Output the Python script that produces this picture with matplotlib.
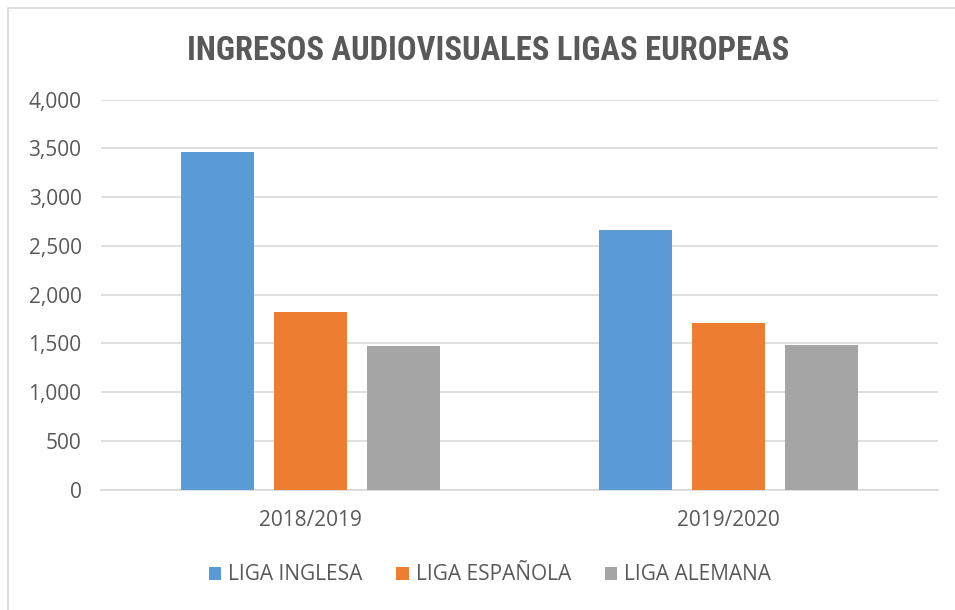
import matplotlib
matplotlib.use("Agg")
import matplotlib.pyplot as plt
from matplotlib.patches import Rectangle
from matplotlib.ticker import FuncFormatter, MultipleLocator
import numpy as np

categories = ["2018/2019", "2019/2020"]
series_names = ["LIGA INGLESA", "LIGA ESPAÑOLA", "LIGA ALEMANA"]
liga_inglesa = [3460, 2663]
liga_espanola = [1822, 1706]
liga_alemana = [1474, 1484]
colors = ["#5B9BD5", "#ED7D31", "#A5A5A5"]

values = [liga_inglesa, liga_espanola, liga_alemana]

fig = plt.figure(figsize=(9.55, 6.10), dpi=100)
ax = fig.add_axes([101/955, (610-489.6)/610, 837/955, 390/610])

x = np.arange(len(categories))
width = 0.174
offsets = [-0.222, 0, 0.222]
for vals, name, col, off in zip(values, series_names, colors, offsets):
    ax.bar(x + off, vals, width, color=col, label=name, zorder=3)

ax.set_xlim(-0.5, 1.5)
ax.set_ylim(0, 4000)
ax.yaxis.set_major_locator(MultipleLocator(500))
ax.yaxis.set_major_formatter(FuncFormatter(lambda v, p: f"{int(v):,}"))
ax.grid(axis="y", color="#D9D9D9", linewidth=1.2, zorder=0)
for s in ["top", "right", "left"]:
    ax.spines[s].set_visible(False)
ax.spines["bottom"].set_color("#D9D9D9")
ax.spines["bottom"].set_linewidth(1.2)
ax.tick_params(axis="both", length=0, labelcolor="#595959", labelsize=15)
ax.tick_params(axis="y", pad=14)
ax.tick_params(axis="x", pad=15)
ax.set_xticks(x)
ax.set_xticklabels(categories)
for lab in ax.get_xticklabels() + ax.get_yticklabels():
    lab.set_family("Open Sans")

fig.text(488/955, 1 - 51/610, "INGRESOS AUDIOVISUALES LIGAS EUROPEAS",
         ha="center", va="center", fontsize=23.5, fontweight="bold",
         color="#595959",
         family=["Liberation Sans Narrow", "Roboto Condensed", "Open Sans Condensed",
                 "Noto Sans Condensed", "Arial Narrow", "Liberation Sans"])

leg = fig.legend(loc="center", bbox_to_anchor=(490/955, 1 - 575/610), ncol=3,
                 frameon=False, handlelength=0.6, handleheight=0.6,
                 columnspacing=1.6, handletextpad=0.35,
                 prop={"family": "Open Sans", "size": 15})
for t in leg.get_texts():
    t.set_color("#595959")

fig.patches.append(Rectangle((8/955, -0.01), 1.0, 1 - 8/610 + 0.01,
                             transform=fig.transFigure, fill=False,
                             edgecolor="#D9D9D9", linewidth=1.2))

fig.savefig("out.png", dpi=100)
